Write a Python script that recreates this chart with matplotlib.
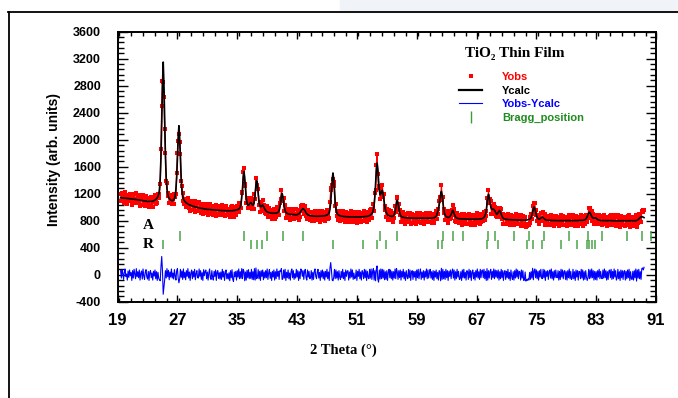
import numpy as np
import matplotlib
matplotlib.use('Agg')
import matplotlib.pyplot as plt
from matplotlib.lines import Line2D
from matplotlib.patches import Rectangle
from matplotlib.ticker import MultipleLocator
from matplotlib import font_manager

# 2 theta sampling of the pattern
theta_start = 19.4
theta_step = 0.1

# calculated profile (one row per degree)
ycalc_txt = """
1141 1139 1138 1137
1136 1135 1133 1132 1131 1130 1128 1127 1126 1125
1124 1122 1121 1119 1118 1116 1115 1113 1112 1110
1108 1106 1104 1102 1100 1098 1096 1094 1092 1090
1089 1088 1087 1086 1086 1085 1085 1085 1086 1088
1096 1100 1107 1113 1127 1140 1160 1196 1268 1433
1740 2232 2806 3150 2806 2233 1741 1434 1270 1199
1150 1130 1115 1105 1100 1098 1100 1108 1126 1165
1272 1442 1716 2036 2207 2033 1710 1432 1259 1165
1122 1098 1084 1072 1062 1055 1047 1041 1036 1031
1026 1022 1018 1014 1011 1007 1004 1001 998 995
992 990 987 985 983 981 979 977 975 973
971 970 968 967 966 964 963 962 961 960
959 958 957 956 955 955 954 953 952 952
951 950 950 949 949 948 948 947 947 946
946 946 947 947 948 948 949 950 951 953
958 960 962 966 973 983 1003 1049 1136 1276
1438 1526 1439 1277 1138 1066 1030 1028 1041 1059
1070 1056 1038 1031 1050 1106 1208 1330 1395 1326
1200 1095 1031 1007 1010 1024 1032 1016 992 969
950 938 930 925 921 918 915 913 911 910
910 910 910 911 912 916 920 930 954 999
1073 1159 1204 1158 1070 994 949 924 912 906
900 897 895 894 892 892 890 890 889 888
886 887 890 894 899 909 920 939 959 972
979 971 957 935 915 903 891 886 880 875
874 872 870 869 868 867 866 866 865 865
867 867 867 868 868 869 869 870 872 873
876 880 884 891 902 924 976 1073 1229 1411
1507 1410 1228 1072 973 921 898 886 879 875
871 868 866 864 863 862 861 860 859 858
858 857 857 856 856 856 855 855 855 855
855 855 855 856 856 856 856 857 857 858
858 859 860 861 862 863 865 868 872 877
883 892 903 923 960 1029 1155 1344 1542 1652
1565 1393 1247 1183 1196 1237 1250 1207 1123 1034
972 929 906 889 878 873 869 867 866 865
864 872 893 931 993 1065 1103 1064 991 929
888 867 858 852 850 847 845 843 842 842
841 840 840 839 839 838 838 838 837 837
837 837 837 837 836 836 836 836 836 836
836 836 836 836 836 836 836 836 836 836
837 838 839 840 842 844 848 855 868 887
931 976 1029 1107 1192 1234 1178 1076 980 916
881 865 856 852 849 850 857 871 894 918
954 938 906 875 855 842 837 833 831 830
829 828 827 827 826 826 825 825 824 824
823 823 822 822 822 821 821 821 821 821
822 822 823 822 823 823 825 825 827 829
835 840 849 866 897 955 1041 1141 1190 1141
1078 1009 974 968 970 969 957 937 912 893
905 920 942 950 929 897 867 845 834 827
824 822 820 819 818 817 816 815 814 814
813 812 812 811 811 810 810 810 809 809
809 808 808 808 808 807 808 808 809 810
813 814 817 822 831 848 880 928 978 1004
979 930 882 851 834 826 825 829 839 848
853 847 835 824 816 811 809 808 806 806
805 804 804 803 803 803 803 802 802 802
802 802 801 801 801 801 801 801 800 800
800 800 800 800 800 800 800 800 800 800
800 800 800 800 801 801 801 802 802 803
803 804 805 806 806 808 811 816 824 838
860 889 915 927 916 891 864 846 837 838
841 843 836 827 817 812 808 806 804 804
803 802 802 801 801 801 800 800 800 800
800 800 800 800 800 799 799 799 799 799
799 799 799 799 799 799 799 799 799 799
799 799 798 798 798 798 798 798 798 798
798 798 798 798 798 800 803 808 815 825
838 850 858 860 856 852 846
"""

# Yobs - Ycalc
ydiff_txt = """
60 -50 75 20
-70 40 85 -25 10 -80 55 -40 70 -15
30 -85 60 -50 80 5 -60 90 -30 45
-45 70 -80 20 55 -65 85 -20 -70 40
75 -30 -65 50 -85 35 60 -45 25 -80
50 -20 70 -60 45 -85 35 -55 -75 -90
120 270 60 -290 -180 -70 60 -50 90 -30
65 -75 40 -35 85 -50 25 -65 75 -20
-80 60 90 -50 -120 -60 80 -40 55 -70
85 -45 35 -75 60 -25 90 -50 40 -85
25 70 -60 50 -35 80 -75 15 60 -45
-50 85 -25 60 -70 30 -85 75 -15 50
70 -60 40 -80 25 85 -45 -70 60 -35
-80 50 -25 70 -85 40 60 -55 30 -65
40 -70 80 -35 50 -85 25 70 -60 15
-65 30 -90 60 -45 75 -70 -100 40 -30
50 -80 60 -35 85 -60 45 -55 90 -60
80 50 -90 40 -80 65 -45 75 -60 35
-55 80 -70 45 -75 90 -80 100 -60 -40
75 -60 50 -85 60 -25 70 -75 40 -50
60 -45 85 -70 25 75 -55 35 -85 50
-35 70 -80 45 -60 85 -25 50 -70 60
45 90 -70 -60 70 -50 80 -85 35 -45
70 -60 25 -80 50 85 -45 60 -70 15
-50 80 -35 60 -85 45 -60 85 70 -25
60 -70 50 80 -45 -80 70 -35 50 -60
-45 60 -80 35 -70 50 85 -25 -60 40
80 -50 35 -85 60 -35 70 -60 45 -80
50 -35 80 -60 40 -85 100 180 60 -80
-90 -40 80 -60 70 -50 45 -80 60 -35
-70 50 -45 80 -60 35 -85 70 -25 50
60 -80 40 -50 85 -35 70 -70 25 -60
-45 70 -85 50 -25 80 -60 40 -80 60
35 -60 80 -45 70 -85 50 -35 -60 80
-50 85 -70 45 90 -80 60 -90 80 130
-70 -110 70 -65 85 -60 80 -50 70 -75
45 -70 60 -85 35 80 -45 70 -60 50
-80 45 -50 85 -60 90 40 -70 60 -45
70 -80 50 -35 80 -60 40 -85 60 -25
-60 80 -45 70 -85 35 60 -70 50 -35
50 -85 70 -45 80 -60 25 85 -70 40
-45 60 -80 50 -35 85 -60 70 -50 25
80 -50 45 -70 60 -85 50 -35 70 -60
35 -80 60 45 -90 95 -70 80 -60 50
-70 80 -45 60 -85 50 -25 70 -60 45
85 -50 70 -80 45 -60 80 -35 50 -70
-60 45 -85 70 -45 80 -50 35 -80 60
50 -70 80 -45 60 -85 40 70 -60 35
-80 60 -35 85 -50 45 -70 80 -45 60
70 -45 80 -60 50 -85 90 -80 60 -50
45 80 -70 50 -45 85 -60 70 -35 60
-50 70 -80 45 -60 80 -45 60 -85 35
60 -70 50 -45 80 -60 35 -85 70 -25
-70 45 -80 60 -50 85 -35 70 -60 50
40 -80 70 -50 60 -85 -80 40 -95 -70
-85 -60 -80 35 -70 45 -50 95 -75 60
85 -45 70 -60 50 -80 60 -35 80 -50
-60 80 -45 70 -85 50 -25 60 -70 45
70 -50 85 -60 45 -80 60 -45 70 -35
-45 60 -80 50 -70 80 -35 70 -60 45
60 -70 45 -80 60 -45 85 -60 50 -70
-50 80 -60 45 -85 70 -35 60 -80 50
45 -60 80 -50 70 -80 45 -70 60 -35
-85 -45 80 -60 70 -50 85 -45 60 -80
50 -70 45 -80 60 -35 80 -60 50 -45
-60 70 -50 85 -45 60 -80 45 -70 60
70 -45 80 -70 50 -60 85 -35 60 -80
-50 80 -60 45 -85 70 -45 60 -70 50
60 -80 50 -60 70 -45 80 -85 45 -60
-70 50 -80 60 -45 85 -95 70 -50 80
-60 45 -70 90 100 70 110
"""

# Bragg positions (2 theta), upper row and lower row
rutile_pos = [27.35, 35.95, 39.03, 41.08, 43.84, 54.10, 56.40, 62.48, 63.80,
              65.24, 68.58, 69.48, 72.06, 74.07, 76.03, 79.42, 81.96, 83.83,
              87.09, 89.18, 90.30]
anatase_pos = [25.12, 36.80, 37.60, 38.35, 47.85, 51.78, 53.65, 54.86, 61.81,
               62.35, 68.45, 69.92, 73.72, 74.60, 75.72, 78.30, 80.40, 81.74,
               82.09, 82.45, 82.81]

x_ticks = [19, 27, 35, 43, 51, 59, 67, 75, 83, 91]
y_ticks = [-400, 0, 400, 800, 1200, 1600, 2000, 2400, 2800, 3200, 3600]
legend_labels = ['Yobs', 'Ycalc', 'Yobs-Ycalc', 'Bragg_position']

ycalc = np.array([int(s) for s in ycalc_txt.split()], dtype=float)
ydiff = np.array([int(s) for s in ydiff_txt.split()], dtype=float)
n = min(len(ycalc), len(ydiff))
ycalc = ycalc[:n]
ydiff = ydiff[:n]
two_theta = theta_start + theta_step * np.arange(n)
yobs = ycalc + ydiff

names = {f.name for f in font_manager.fontManager.ttflist}
sans = 'Liberation Sans' if 'Liberation Sans' in names else 'DejaVu Sans'
narrow = 'Liberation Sans Narrow' if 'Liberation Sans Narrow' in names else sans
serif = ['Liberation Serif', 'DejaVu Serif']

green = '#3a9d3a'

fig = plt.figure(figsize=(6.78, 3.98), dpi=100)

# outer frame of the page
fig.patches.append(Rectangle((340 / 678, 1 - 12 / 398), 1, 12 / 398,
                             transform=fig.transFigure, color='#f0f4f9', zorder=0))
fig.add_artist(Line2D([8 / 678, 1], [1 - 12 / 398, 1 - 12 / 398],
                      transform=fig.transFigure, color='black', lw=1.3))
fig.add_artist(Line2D([9 / 678, 9 / 678], [0, 1 - 12 / 398],
                      transform=fig.transFigure, color='black', lw=1.3))

ax = fig.add_axes([117.6 / 678, 96.3 / 398, 538.4 / 678, 270 / 398])

# observed points: dense red band
ax.plot(two_theta, yobs, color='red', lw=0.9, zorder=2)
ax.plot(two_theta, yobs, 's', color='red', ms=3.0, mew=0, zorder=2)
ax.plot(two_theta, ycalc, color='black', lw=1.2, zorder=3)
ax.plot(two_theta, ydiff, color='blue', lw=0.8, zorder=3)
ax.vlines(rutile_pos, 504, 643, color=green, lw=1.2, alpha=0.85)
ax.vlines(anatase_pos, 385, 510, color=green, lw=1.2, alpha=0.85)

ax.text(23.05, 722, 'A', family=serif, weight='bold', size=11, ha='center', va='center')
ax.text(23.05, 450, 'R', family=serif, weight='bold', size=11, ha='center', va='center')

ax.set_xlim(19, 91)
ax.set_ylim(-400, 3600)
ax.set_xticks(x_ticks)
ax.set_xticklabels([str(v) for v in x_ticks], fontfamily=narrow, fontweight='bold', fontsize=12)
ax.set_yticks(y_ticks)
ax.set_yticklabels([str(v) for v in y_ticks], fontfamily=sans, fontweight='bold', fontsize=9)
ax.xaxis.set_minor_locator(MultipleLocator(1.6))
ax.yaxis.set_minor_locator(MultipleLocator(80))
ax.tick_params(which='both', direction='in', top=True, right=True, width=1)
ax.tick_params(axis='x', which='major', length=5, pad=8)
ax.tick_params(axis='x', which='minor', length=3)
ax.tick_params(axis='y', which='major', length=7, pad=12)
ax.tick_params(axis='y', which='minor', length=4.5)
for sp in ax.spines.values():
    sp.set_linewidth(1.4)

fig.text(54 / 678, 1 - 160 / 398, 'Intensity (arb. units)', rotation=90,
         family=sans, weight='bold', size=10, ha='center', va='center')
fig.text(343 / 678, 1 - 350 / 398, '2 Theta (°)', family=serif, weight='bold',
         size=10.5, ha='center', va='center')
fig.text(465 / 678, 1 - 53 / 398, 'TiO\u2082 Thin Film', family=serif, weight='bold',
         size=11, ha='left', va='center')

handles = [Line2D([], [], ls='none', marker='s', color='red', ms=2.5, mew=0),
           Line2D([], [], color='black', lw=1.6),
           Line2D([], [], color='blue', lw=0.8),
           Line2D([], [], ls='none', marker='|', color=green, ms=8, mew=1)]
ax.legend(handles, legend_labels, loc='upper left',
          bbox_to_anchor=(459 / 678, 1 - 72 / 398), bbox_transform=fig.transFigure,
          frameon=False, borderpad=0, borderaxespad=0, handlelength=2.1,
          handletextpad=1.8, labelspacing=0.32,
          prop=dict(family=sans, weight='bold', size=8),
          labelcolor=['red', 'black', 'blue', '#1e8c1e'])

fig.savefig('out.png', dpi=100)
